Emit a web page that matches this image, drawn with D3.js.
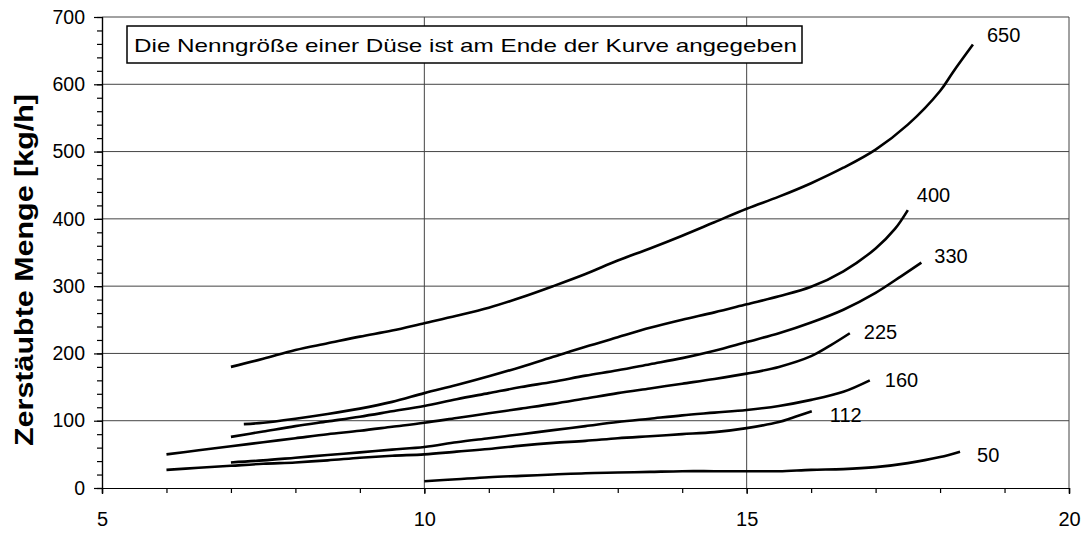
<!DOCTYPE html>
<html>
<head>
<meta charset="utf-8">
<script src="https://cdn.jsdelivr.net/npm/d3@7"></script>
<style>
  body { margin: 0; background: #fff; }
  svg { display: block; font-family: Arial, "Liberation Sans", sans-serif; }
</style>
</head>
<body>
<div id="stage"></div>
<script>
(function(d3) {
    'use strict';

    // tick labels
    var xTicks = [5, 10, 15, 20];
    var yTicks = [0, 100, 200, 300, 400, 500, 600, 700];
    var nozzles = ['650', '400', '330', '225', '160', '112', '50'];

    // [Druck, Menge]
    var c650 = [[7,180],[7.5,192],[8,205],[8.5,215],[9,225],[9.5,234],[10,245],[10.5,256],[11,268],[11.5,283],[12,300],[12.5,318],[13,338],[13.5,356],[14,375],[14.5,395],[15,415],[15.5,433],[16,453],[16.5,476],[17,503],[17.5,540],[18,590],[18.2,618],[18.51,659]];
    var c400 = [[7.2,95],[7.5,97],[8,103],[8.5,110],[9,118],[9.5,128],[10,141],[10.5,153],[11,166],[11.5,180],[12,195],[12.5,210],[13,224],[13.5,238],[14,250],[14.5,261],[15,273],[15.5,285],[16,299],[16.5,322],[17,356],[17.3,385],[17.5,413]];
    var c330 = [[7,76],[7.5,84],[8,92],[8.5,99],[9,106],[9.5,114],[10,122],[10.5,132],[11,141],[11.5,150],[12,158],[12.5,167],[13,175],[13.5,184],[14,193],[14.5,204],[15,217],[15.5,230],[16,246],[16.5,265],[17,290],[17.4,315],[17.71,335]];
    var c225 = [[6,50],[6.5,56],[7,62],[7.5,68],[8,74],[8.5,80],[9,85],[9.5,91],[10,97],[10.5,104],[11,111],[11.5,118],[12,125],[12.5,133],[13,141],[13.5,148],[14,155],[14.5,162],[15,170],[15.5,180],[16,196],[16.3,212],[16.6,230]];
    var c160 = [[7,38],[7.5,41],[8,45],[8.5,49],[9,53],[9.5,57],[10,61],[10.5,68],[11,74],[11.5,80],[12,86],[12.5,92],[13,98],[13.5,103],[14,108],[14.5,112],[15,116],[15.5,122],[16,131],[16.5,143],[16.91,160]];
    var c112 = [[6,27],[6.5,30],[7,33],[7.5,36],[8,38],[8.5,41],[9,45],[9.5,48],[10,50],[10.5,54],[11,58],[11.5,63],[12,67],[12.5,70],[13,74],[13.5,77],[14,80],[14.5,83],[15,89],[15.5,98],[15.7,104],[16.01,114]];
    var c50 = [[10,10],[10.5,13],[11,16],[11.5,18],[12,20],[12.5,22],[13,23],[13.5,24],[14,25],[14.5,25],[15,25],[15.5,25],[16,27],[16.5,28],[17,31],[17.5,37],[18,46],[18.31,54]];

    var curves = [c650, c400, c330, c225, c160, c112, c50];

    // label offsets from the curve end, px
    var labelOffset = {
        '650': [14, -3], '400': [9, -8], '330': [13, 0], '225': [14, 6],
        '160': [15, 7], '112': [18, 11], '50': [17, 10]
    };

    var width = 1087,
        height = 533,
        margin = { top: 17, right: 18, bottom: 45, left: 102 };

    var svg = d3.select('#stage')
        .append('svg')
        .attr('width', width)
        .attr('height', height);

    var x = d3.scaleLinear().domain([5, 20]).range([margin.left, width - margin.right]);
    var y = d3.scaleLinear().domain([0, 700]).range([height - margin.bottom, margin.top]);

    // grid
    svg.append('g')
        .selectAll('line')
        .data(yTicks.slice(1))
        .enter()
        .append('line')
        .attr('x1', x(5))
        .attr('x2', x(20))
        .attr('y1', function(d) { return y(d); })
        .attr('y2', function(d) { return y(d); })
        .style('stroke', '#444')
        .style('stroke-width', 1);

    svg.append('g')
        .selectAll('line')
        .data([10, 15, 20])
        .enter()
        .append('line')
        .attr('x1', function(d) { return x(d); })
        .attr('x2', function(d) { return x(d); })
        .attr('y1', y(700))
        .attr('y2', y(0))
        .style('stroke', '#444')
        .style('stroke-width', 1);

    // axes
    var xMinor = d3.axisBottom(x).tickValues(d3.range(5, 21)).tickSize(5).tickFormat('');
    var xMajor = d3.axisBottom(x).tickValues(xTicks).tickSize(6).tickPadding(18).tickFormat(d3.format('d'));
    var yMinor = d3.axisLeft(y).tickValues(d3.range(0, 701, 20)).tickSize(5).tickFormat('');
    var yMajor = d3.axisLeft(y).tickValues(yTicks).tickSize(8).tickPadding(9).tickFormat(d3.format('d'));

    var gx = [xMinor, xMajor].map(function(a) {
        return svg.append('g')
            .attr('transform', 'translate(0,' + y(0) + ')')
            .call(a);
    });
    var gy = [yMinor, yMajor].map(function(a) {
        return svg.append('g')
            .attr('transform', 'translate(' + x(5) + ',0)')
            .call(a);
    });

    svg.selectAll('.domain, .tick line')
        .style('stroke', '#000')
        .style('stroke-width', 1.2);
    svg.selectAll('.tick text')
        .style('font-family', 'Arial, "Liberation Sans", sans-serif')
        .style('fill', '#000');
    gx[1].selectAll('.tick text').style('font-size', '20px');
    gy[1].selectAll('.tick text').style('font-size', '19.5px');

    // curves
    var line = d3.line()
        .x(function(d) { return x(d[0]); })
        .y(function(d) { return y(d[1]); })
        .curve(d3.curveCatmullRom.alpha(0.5));

    svg.append('g')
        .selectAll('path')
        .data(curves)
        .enter()
        .append('path')
        .attr('d', line)
        .style('fill', 'none')
        .style('stroke', '#000')
        .style('stroke-width', 2.6)
        .style('stroke-linecap', 'butt');

    svg.append('g')
        .selectAll('text')
        .data(curves)
        .enter()
        .append('text')
        .attr('x', function(d, i) { return x(d[d.length - 1][0]) + labelOffset[nozzles[i]][0]; })
        .attr('y', function(d, i) { return y(d[d.length - 1][1]) + labelOffset[nozzles[i]][1]; })
        .text(function(d, i) { return nozzles[i]; })
        .style('font-size', '20px')
        .style('fill', '#000');

    // note box
    var note = svg.append('g');
    note.append('rect')
        .attr('x', 127)
        .attr('y', 26)
        .attr('width', 675)
        .attr('height', 37)
        .style('fill', '#fff')
        .style('stroke', '#000')
        .style('stroke-width', 1.5);
    note.append('text')
        .attr('x', 134)
        .attr('y', 51.5)
        .attr('textLength', 663)
        .attr('lengthAdjust', 'spacingAndGlyphs')
        .text('Die Nenngröße einer Düse ist am Ende der Kurve angegeben')
        .style('font-size', '19px')
        .style('fill', '#000');

    // y title
    svg.append('text')
        .attr('transform', 'translate(33,270) rotate(-90)')
        .attr('text-anchor', 'middle')
        .attr('textLength', 352)
        .attr('lengthAdjust', 'spacingAndGlyphs')
        .text('Zerstäubte Menge [kg/h]')
        .style('font-size', '26px')
        .style('font-weight', 'bold')
        .style('fill', '#000');

})(window.d3);
</script>
</body>
</html>
